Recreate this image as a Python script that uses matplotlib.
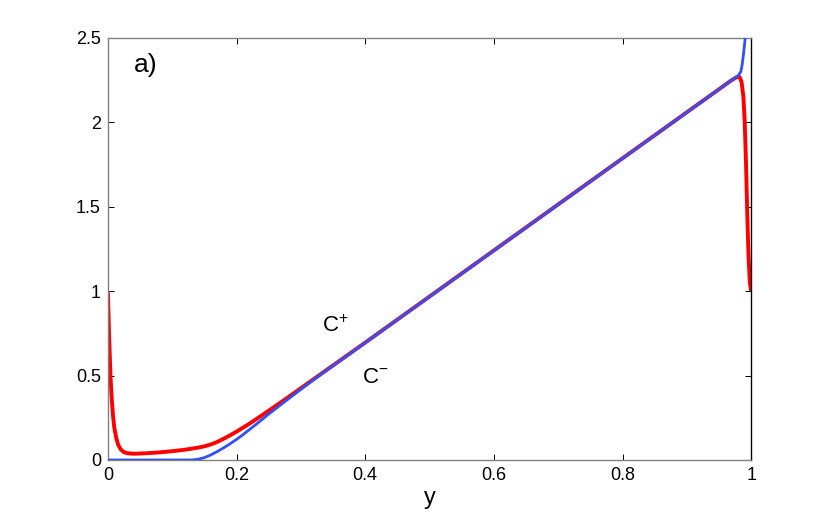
import matplotlib
matplotlib.use("Agg")
import matplotlib.pyplot as plt

plt.rcParams['font.family'] = ['Liberation Sans', 'DejaVu Sans']
plt.rcParams['mathtext.fontset'] = 'custom'
plt.rcParams['mathtext.rm'] = 'Liberation Sans'
plt.rcParams['mathtext.it'] = 'Liberation Sans:italic'

# C- (blue)
blue_x = [0.0, 0.13, 0.14, 0.15, 0.16, 0.17, 0.18, 0.19, 0.20, 0.21, 0.22, 0.23,
          0.25, 0.28, 0.32, 0.98, 0.984, 0.986, 0.988, 0.990, 0.992, 0.994]
blue_y = [0.0, 0.0, 0.004, 0.014, 0.03, 0.05, 0.072, 0.096, 0.122, 0.15, 0.18, 0.21,
          0.272, 0.36, 0.476, 2.277, 2.30, 2.34, 2.40, 2.47, 2.56, 2.66]

# C+ (red)
red_x = [0.0, 0.002, 0.004, 0.006, 0.008, 0.010, 0.013, 0.016, 0.020, 0.025, 0.030,
         0.040, 0.060, 0.080, 0.100, 0.120, 0.140, 0.150, 0.160, 0.170, 0.180, 0.190,
         0.200, 0.220, 0.240, 0.260, 0.280, 0.300, 0.330, 0.360, 0.400, 0.450, 0.970,
         0.978, 0.982, 0.985, 0.988, 0.990, 0.992, 0.994, 0.996, 0.998, 1.0]
red_y = [1.0, 0.72, 0.50, 0.36, 0.26, 0.19, 0.13, 0.09, 0.062, 0.047, 0.040,
         0.037, 0.040, 0.045, 0.052, 0.061, 0.073, 0.081, 0.092, 0.107, 0.126, 0.146,
         0.168, 0.215, 0.266, 0.318, 0.371, 0.425, 0.506, 0.587, 0.695, 0.8315, 2.250,
         2.268, 2.268, 2.24, 2.15, 2.00, 1.76, 1.45, 1.20, 1.05, 1.0]

xticks = [0, 0.2, 0.4, 0.6, 0.8, 1]
xticklabels = ['0', '0.2', '0.4', '0.6', '0.8', '1']
yticks = [0, 0.5, 1, 1.5, 2, 2.5]
yticklabels = ['0', '0.5', '1', '1.5', '2', '2.5']

fig = plt.figure(figsize=(8.3, 5.18), dpi=100)
ax = fig.add_axes([0.13, 0.112, 0.775, 0.815])

ax.plot(red_x, red_y, color='#ff0000', lw=2.8, solid_capstyle='butt', zorder=2)
ax.plot(blue_x, blue_y, color='#3050f8', lw=2.0, solid_capstyle='butt', zorder=3)

ax.set_xlim(0, 1)
ax.set_ylim(0, 2.5)
ax.set_xticks(xticks)
ax.set_xticklabels(xticklabels)
ax.set_yticks(yticks)
ax.set_yticklabels(yticklabels)
ax.tick_params(direction='in', length=4.5, width=0.7, labelsize=13, pad=5,
               top=True, right=True, colors='black')

for side in ['left', 'top', 'bottom']:
    ax.spines[side].set_color('#808080')
    ax.spines[side].set_linewidth(1.0)
ax.spines['right'].set_color('black')
ax.spines['right'].set_linewidth(1.0)

ax.set_xlabel('y', fontsize=17, labelpad=2)

ax.text(0.04, 2.30, 'a)', fontsize=19)
ax.text(0.333, 0.76, 'C$^{+}$', fontsize=16)
ax.text(0.395, 0.458, 'C$^{-}$', fontsize=16)

fig.savefig('out.png', dpi=100)
